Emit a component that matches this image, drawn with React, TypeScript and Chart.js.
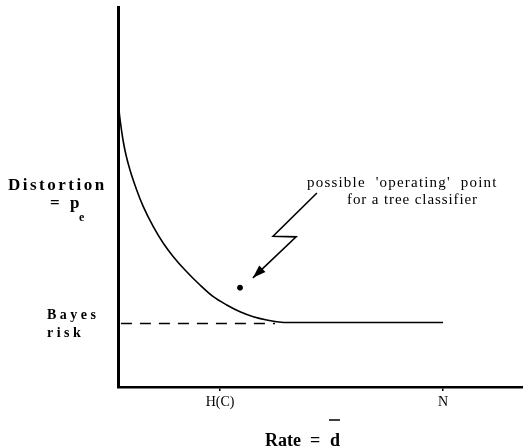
import React, { useEffect, useRef } from "react";
import { Chart, registerables } from "chart.js";

Chart.register(...registerables);

// Rate–distortion curve (Rate on x, Distortion p_e on y)
const curveX = [0, 0.031, 0.077, 0.154, 0.246, 0.369, 0.575, 0.778, 1.086, 1.394, 1.702, 2.062, 2.523, 2.932, 3.345, 3.754, 4.163, 4.575, 4.883, 5.292, 10];
const curveY = [4.492, 4.262, 4.062, 3.8, 3.569, 3.338, 3.031, 2.774, 2.466, 2.211, 2.005, 1.8, 1.569, 1.389, 1.262, 1.158, 1.082, 1.031, 1.005, 0.992, 0.992];

// Bayes risk dashed asymptote
const bayesRisk = 0.977;
const bayesX = [0.09, 4.83];

// Operating point of a tree classifier
const pointX = [3.754];
const pointY = [1.528];

// Zig-zag arrow pointing to the operating point
const arrowX = [6.12, 4.77, 5.48, 4.15];
const arrowY = [2.985, 2.32, 2.31, 1.68];

// Axis ticks
const tickValues = [3.14, 10];
const tickLabels = ["H(C)", "N"];

const X_MAX = 12.46;
const Y_MAX = 5.846;

const SERIF = '"Liberation Serif", "Times New Roman", serif';

const textPlugin = {
  id: "textPlugin",
  afterDraw(chart: any) {
    const ctx = chart.ctx as CanvasRenderingContext2D;
    const xs = chart.scales.x;
    const ys = chart.scales.y;
    ctx.save();
    ctx.fillStyle = "#000";
    ctx.strokeStyle = "#000";
    ctx.textBaseline = "alphabetic";
    ctx.textAlign = "left";

    // arrow head at last arrow point
    const n = arrowX.length;
    const tx = xs.getPixelForValue(arrowX[n - 1]);
    const ty = ys.getPixelForValue(arrowY[n - 1]);
    const px = xs.getPixelForValue(arrowX[n - 2]);
    const py = ys.getPixelForValue(arrowY[n - 2]);
    const ang = Math.atan2(ty - py, tx - px);
    const len = 13;
    const half = 4.5;
    const bx = tx - Math.cos(ang) * len;
    const by = ty - Math.sin(ang) * len;
    ctx.beginPath();
    ctx.moveTo(tx, ty);
    ctx.lineTo(bx + Math.sin(ang) * half, by - Math.cos(ang) * half);
    ctx.lineTo(bx - Math.sin(ang) * half, by + Math.cos(ang) * half);
    ctx.closePath();
    ctx.fill();

    const setLS = (v: string) => {
      try {
        (ctx as any).letterSpacing = v;
      } catch (e) {}
    };

    // Y-axis labels
    ctx.font = `bold 17px ${SERIF}`;
    setLS("2.5px");
    ctx.fillText("Distortion", 8, 190);
    setLS("0px");
    ctx.fillText("=", 50, 208);
    ctx.fillText("p", 70, 208);
    ctx.font = `bold 12px ${SERIF}`;
    ctx.fillText("e", 79, 221);

    const bayesPix = ys.getPixelForValue(bayesRisk);
    ctx.font = `bold 14px ${SERIF}`;
    setLS("3.5px");
    ctx.fillText("Bayes", 47, bayesPix - 4);
    ctx.fillText("risk", 47, bayesPix + 14);

    // Annotation
    ctx.font = `15px ${SERIF}`;
    setLS("1.2px");
    ctx.fillText("possible  'operating'  point", 307, 187);
    setLS("0.9px");
    ctx.fillText("for a tree classifier", 347, 204);

    // X-axis title
    setLS("0px");
    ctx.font = `bold 18px ${SERIF}`;
    ctx.fillText("Rate", 265, 446);
    ctx.fillText("=", 310, 446);
    ctx.fillText("d", 330, 446);
    const dw = ctx.measureText("d").width;
    ctx.lineWidth = 1.5;
    ctx.beginPath();
    ctx.moveTo(329, 420);
    ctx.lineTo(330 + dw, 420);
    ctx.stroke();

    ctx.restore();
  },
};

export default function App() {
  const ref = useRef<HTMLCanvasElement | null>(null);

  useEffect(() => {
    if (!ref.current) return;
    const chart = new Chart(ref.current, {
      type: "line",
      data: {
        datasets: [
          {
            label: "curve",
            data: curveX.map((x, i) => ({ x, y: curveY[i] })),
            borderColor: "#000",
            borderWidth: 1.6,
            pointRadius: 0,
            cubicInterpolationMode: "monotone",
            fill: false,
          },
          {
            label: "bayes",
            data: bayesX.map((x) => ({ x, y: bayesRisk })),
            borderColor: "#000",
            borderWidth: 1.5,
            borderDash: [11, 8],
            pointRadius: 0,
            fill: false,
          },
          {
            label: "arrow",
            data: arrowX.map((x, i) => ({ x, y: arrowY[i] })),
            borderColor: "#000",
            borderWidth: 1.6,
            pointRadius: 0,
            tension: 0,
            fill: false,
          },
          {
            label: "point",
            type: "scatter",
            data: pointX.map((x, i) => ({ x, y: pointY[i] })),
            backgroundColor: "#000",
            borderColor: "#000",
            pointRadius: 2.5,
          } as any,
        ],
      },
      options: {
        responsive: false,
        animation: false,
        layout: { autoPadding: false, padding: { left: 0, right: 0, top: 7, bottom: 0 } },
        plugins: {
          legend: { display: false },
          tooltip: { enabled: false },
        },
        scales: {
          x: {
            type: "linear",
            min: 0,
            max: X_MAX,
            afterFit: (s: any) => {
              s.height = 60;
              s.paddingLeft = 0;
              s.paddingRight = 0;
            },
            afterBuildTicks: (s: any) => {
              s.ticks = tickValues.map((v) => ({ value: v }));
            },
            ticks: {
              color: "#000",
              font: { family: SERIF, size: 14 },
              padding: 3,
              maxRotation: 0,
              autoSkip: false,
              callback: (v: any) => {
                const i = tickValues.indexOf(Number(v));
                return i >= 0 ? tickLabels[i] : "";
              },
            },
            grid: {
              display: true,
              drawOnChartArea: false,
              drawTicks: true,
              tickLength: 4,
              color: "#000",
              lineWidth: 1.5,
            },
            border: { display: true, color: "#000", width: 2.5 },
          },
          y: {
            type: "linear",
            min: 0,
            max: Y_MAX,
            afterFit: (s: any) => {
              s.width = 118;
              s.paddingTop = 0;
              s.paddingBottom = 0;
            },
            ticks: { display: false },
            grid: { display: false, drawTicks: false },
            border: { display: true, color: "#000", width: 3 },
          },
        },
      },
      plugins: [textPlugin],
    });
    return () => chart.destroy();
  }, []);

  return (
    <div style={{ position: "absolute", left: 0, top: 0, width: 523, height: 447, background: "#fff" }}>
      <canvas ref={ref} width={523} height={447} style={{ display: "block" }} />
    </div>
  );
}
